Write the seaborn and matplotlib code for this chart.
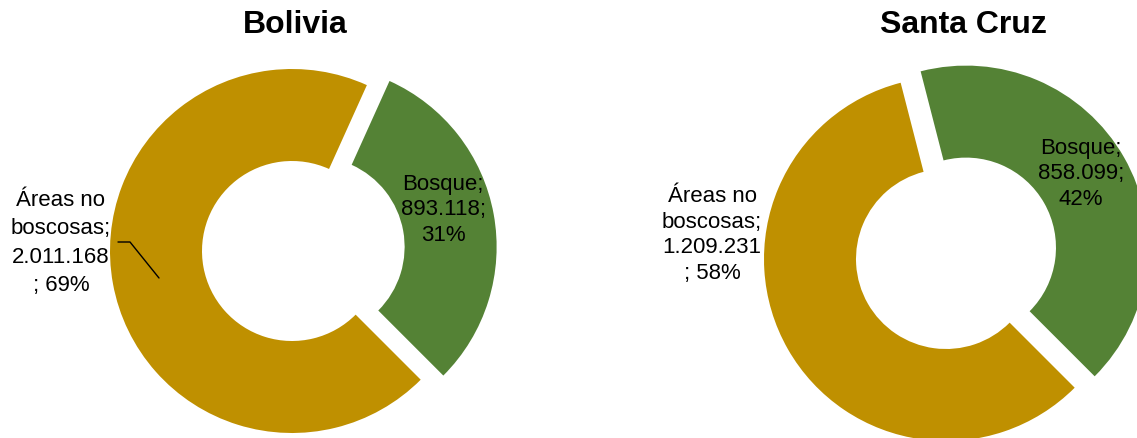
import matplotlib
matplotlib.use("Agg")
import matplotlib.pyplot as plt
import seaborn as sns

# Data
regions = ["Bolivia", "Santa Cruz"]
categories = ["Áreas no boscosas", "Bosque"]
no_bosque = [2011168, 1209231]
bosque = [893118, 858099]
colors = ["#BF9000", "#548235"]

sns.set_theme(style="white")
plt.rcParams['font.family'] = ['Liberation Sans', 'DejaVu Sans']


def fmt(v):
    return f"{v:,}".replace(",", ".")


W, H = 1137, 439
fig = plt.figure(figsize=(W / 100, H / 100), dpi=100)
ax = fig.add_axes([0, 0, 1, 1])

# layout in pixel units (y measured from top)
centers = [(292, 252), (946, 260)]
title_pos = [(295, 25), (963, 25)]
green_lbl = [(443, 210), (1081, 174)]
yellow_lbl = [(61, 243), (712, 235)]
yellow_spacing = [1.45, 1.3]
R, ring = 182, 92

for i, region in enumerate(regions):
    vals = [no_bosque[i], bosque[i]]
    total = sum(vals)
    pcts = [round(100 * v / total) for v in vals]
    cx, cy = centers[i]
    ax.pie(vals, colors=colors, startangle=-45, counterclock=False,
           center=(cx, H - cy), radius=R, explode=[0, 23],
           wedgeprops=dict(width=ring, edgecolor='none'))
    tx, ty = title_pos[i]
    ax.text(tx, H - ty, region, ha='center', va='center',
            fontsize=23, fontweight='bold', color='black')
    gx, gy = green_lbl[i]
    ax.text(gx, H - gy, f"Bosque;\n{fmt(bosque[i])};\n{pcts[1]}%",
            ha='center', va='center', fontsize=16, linespacing=1.3,
            multialignment='center', color='black')
    yx, yy = yellow_lbl[i]
    ax.text(yx, H - yy, f"Áreas no\nboscosas;\n{fmt(no_bosque[i])}\n; {pcts[0]}%",
            ha='center', va='center', fontsize=16, linespacing=yellow_spacing[i],
            multialignment='center', color='black')

# leader line for Bolivia label
ax.plot([118, 130, 159], [H - 243, H - 243, H - 279], color='black', lw=1)

ax.set_xlim(0, W)
ax.set_ylim(0, H)
ax.set_aspect('auto')
ax.axis('off')

fig.savefig("out.png", dpi=100)
